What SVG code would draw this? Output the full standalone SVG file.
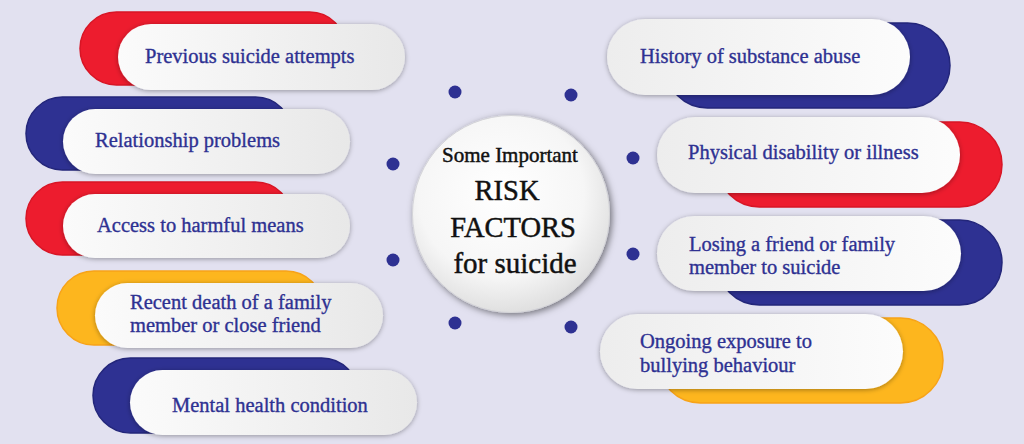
<svg xmlns="http://www.w3.org/2000/svg" width="1024" height="444" viewBox="0 0 1024 444">
<defs>
<linearGradient id="gw" x1="0" y1="0" x2="1" y2="0">
<stop offset="0" stop-color="#fbfbfb"/>
<stop offset="1" stop-color="#e8e8e8"/>
</linearGradient>
<linearGradient id="gwr" x1="0" y1="0" x2="1" y2="0">
<stop offset="0" stop-color="#ededed"/>
<stop offset="1" stop-color="#fcfcfc"/>
</linearGradient>
<radialGradient id="gc" cx="0.45" cy="0.4" r="0.6">
<stop offset="0" stop-color="#ffffff"/>
<stop offset="0.7" stop-color="#f6f6f6"/>
<stop offset="1" stop-color="#e0e0e0"/>
</radialGradient>
<filter id="sh" x="-10%" y="-30%" width="120%" height="160%">
<feDropShadow dx="0" dy="1" stdDeviation="2.5" flood-color="#000" flood-opacity="0.35"/>
</filter>
<filter id="shc" x="-20%" y="-20%" width="140%" height="140%">
<feDropShadow dx="2" dy="2" stdDeviation="3.5" flood-color="#000" flood-opacity="0.5"/>
</filter>
</defs>
<style>
.red{fill:#ed1c2e;stroke:#d81525;stroke-width:1.5}
.navy{fill:#2e3192;stroke:#23267a;stroke-width:1.5}
.yel{fill:#fdb61e;stroke:#f7a318;stroke-width:1.5}
.wl{fill:url(#gw);filter:url(#sh)}
.wr{fill:url(#gwr);filter:url(#sh)}
.lbl{font-family:"Liberation Serif","Times New Roman",serif;font-size:20.5px;fill:#2e3192;stroke:#2e3192;stroke-width:0.35}
.ctr{font-family:"Liberation Serif","Times New Roman",serif;fill:#111;stroke:#111;stroke-width:0.45;text-anchor:middle}
.dot{fill:#2e3192}
</style>
<rect width="1024" height="444" fill="#e2e1f0"/>

<g id="dots">
<circle class="dot" cx="455" cy="92" r="6.5"/>
<circle class="dot" cx="571" cy="95" r="6.5"/>
<circle class="dot" cx="393" cy="164" r="6.5"/>
<circle class="dot" cx="633" cy="158" r="6.5"/>
<circle class="dot" cx="393" cy="260" r="6.5"/>
<circle class="dot" cx="633" cy="254" r="6.5"/>
<circle class="dot" cx="455" cy="323" r="6.5"/>
<circle class="dot" cx="571" cy="327" r="6.5"/>
</g>

<g id="center">
<circle cx="511" cy="214" r="98.5" fill="url(#gc)" stroke="#d4d4d8" stroke-width="1" filter="url(#shc)"/>
<text class="ctr" x="510" y="162" font-size="21">Some Important</text>
<text class="ctr" x="507" y="200" font-size="28.5">RISK</text>
<text class="ctr" x="513" y="237" font-size="28.5">FACTORS</text>
<text class="ctr" x="515" y="273" font-size="29">for suicide</text>
</g>

<g id="n1">
<rect class="red" x="80" y="12" width="266" height="73" rx="36.5"/>
<rect class="wl" x="118" y="24" width="287" height="66" rx="33"/>
<text class="lbl" x="145" y="63">Previous suicide attempts</text>
</g>
<g id="n2">
<rect class="navy" x="26" y="97" width="266" height="73" rx="36.5"/>
<rect class="wl" x="63" y="109" width="287" height="65" rx="32.5"/>
<text class="lbl" x="95" y="147">Relationship problems</text>
</g>
<g id="n3">
<rect class="red" x="26" y="182" width="266" height="73" rx="36.5"/>
<rect class="wl" x="63" y="194" width="287" height="64" rx="32"/>
<text class="lbl" x="97" y="232">Access to harmful means</text>
</g>
<g id="n4">
<rect class="yel" x="57" y="271" width="266" height="74" rx="37"/>
<rect class="wl" x="95" y="283" width="288" height="65" rx="32.5"/>
<text class="lbl" x="130" y="309">Recent death of a family</text>
<text class="lbl" x="130" y="332">member or close friend</text>
</g>
<g id="n5">
<rect class="navy" x="93" y="358" width="266" height="75" rx="37.5"/>
<rect class="wl" x="130" y="370" width="287" height="65" rx="32.5"/>
<text class="lbl" x="172" y="412">Mental health condition</text>
</g>

<g id="n6">
<rect class="navy" x="665" y="23" width="285" height="85" rx="42.5"/>
<rect class="wr" x="607" y="19" width="303" height="76" rx="38"/>
<text class="lbl" x="640" y="63">History of substance abuse</text>
</g>
<g id="n7">
<rect class="red" x="717" y="122" width="285" height="85" rx="42.5"/>
<rect class="wr" x="657" y="117" width="303" height="76" rx="38"/>
<text class="lbl" x="688" y="159">Physical disability or illness</text>
</g>
<g id="n8">
<rect class="navy" x="717" y="220" width="285" height="85" rx="42.5"/>
<rect class="wr" x="657" y="216" width="304" height="75" rx="37.5"/>
<text class="lbl" x="689" y="251">Losing a friend or family</text>
<text class="lbl" x="689" y="274">member to suicide</text>
</g>
<g id="n9">
<rect class="yel" x="658" y="318" width="285" height="85" rx="42.5"/>
<rect class="wr" x="600" y="314" width="303" height="75" rx="37.5"/>
<text class="lbl" x="640" y="348">Ongoing exposure to</text>
<text class="lbl" x="640" y="372">bullying behaviour</text>
</g>

<g id="connectors"/>
</svg>
